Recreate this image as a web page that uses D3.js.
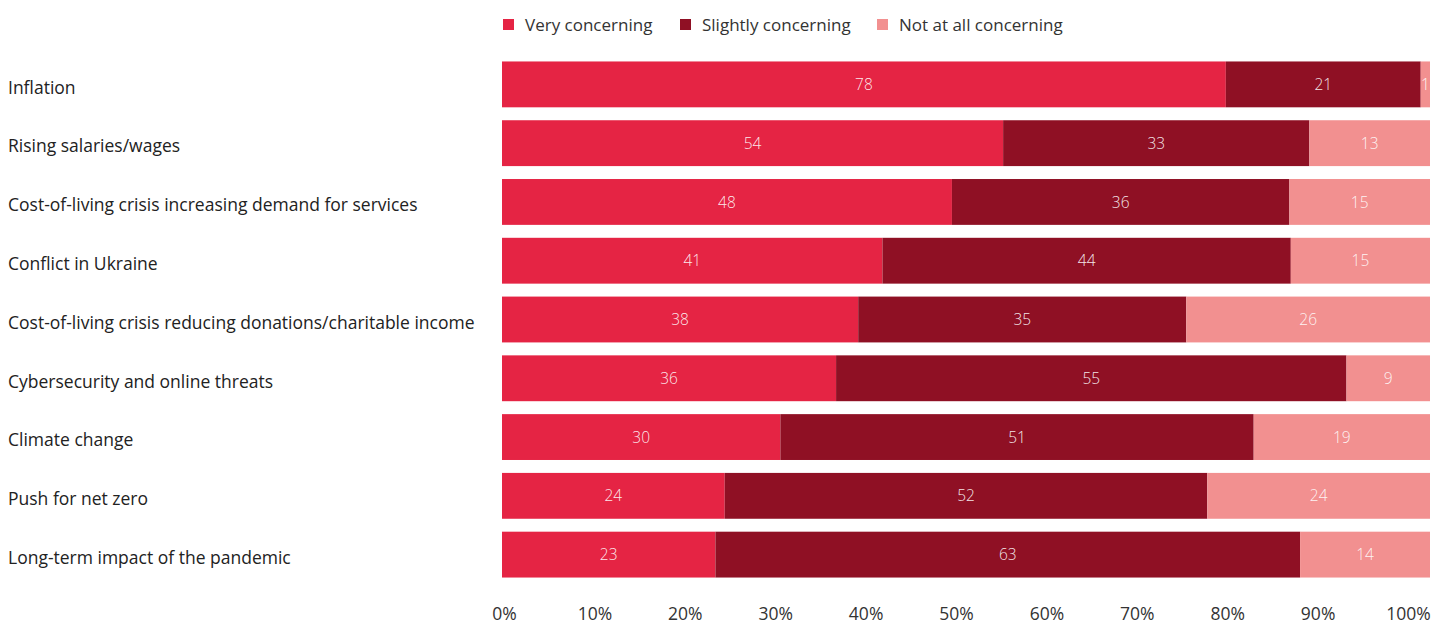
<!DOCTYPE html>
<html>
<head>
<meta charset="utf-8">
<script src="https://cdn.jsdelivr.net/npm/d3@7"></script>
<style>
    body { margin: 0; background: #fff; }
    svg { font-family: "Open Sans", sans-serif; }
</style>
</head>
<body>
<svg id="chart" width="1432" height="624"></svg>
<script>
var categories = [
    "Inflation",
    "Rising salaries/wages",
    "Cost-of-living crisis increasing demand for services",
    "Conflict in Ukraine",
    "Cost-of-living crisis reducing donations/charitable income",
    "Cybersecurity and online threats",
    "Climate change",
    "Push for net zero",
    "Long-term impact of the pandemic"
];
var series_names = ["Very concerning", "Slightly concerning", "Not at all concerning"];
var very = [78, 54, 48, 41, 38, 36, 30, 24, 23];
var slightly = [21, 33, 36, 44, 35, 55, 51, 52, 63];
var not_at_all = [1, 13, 15, 15, 26, 9, 19, 24, 14];
var tick_values = [0, 10, 20, 30, 40, 50, 60, 70, 80, 90, 100];
var colors = ["#e52444", "#8f1024", "#f29090"];

var svg = d3.select("#chart");

var rows = categories.map(function(c, i) {
    return {cat: c, very: very[i], slightly: slightly[i], not_at_all: not_at_all[i]};
});
var keys = ["very", "slightly", "not_at_all"];

// rows that add up to 99 still fill the bar
var stacked = d3.stack()
    .keys(keys)
    .offset(d3.stackOffsetExpand)(rows);

var x = d3.scaleLinear().domain([0, 1]).range([502, 1430]);
var x_axis = d3.scaleLinear().domain([0, 100]).range([504, 1408]);
var y = d3.scaleBand().domain(categories).range([55, 584]).paddingInner(0.22).paddingOuter(0.11);

// bars
var groups = svg.selectAll("g.series")
  .data(stacked)
  .enter()
  .append("g")
    .attr("class", "series")
    .attr("fill", function(d, i) { return colors[i]; });

groups.selectAll("rect")
  .data(function(d) { return d; })
  .enter()
  .append("rect")
    .attr("x", function(d) { return x(d[0]); })
    .attr("y", function(d) { return y(d.data.cat); })
    .attr("width", function(d) { return x(d[1]) - x(d[0]); })
    .attr("height", y.bandwidth());

// value labels
groups.each(function(s) {
    var key = s.key;
    d3.select(this).selectAll("text")
      .data(s)
      .enter()
      .append("text")
        .attr("x", function(d) { return (x(d[0]) + x(d[1])) / 2; })
        .attr("y", function(d) { return y(d.data.cat) + y.bandwidth() / 2; })
        .attr("dy", "0.36em")
        .attr("text-anchor", "middle")
        .attr("fill", "#fff")
        .attr("fill-opacity", 0.9)
        .style("font-size", "15.5px")
        .style("font-weight", 300)
        .text(function(d) { return d.data[key]; });
});

// category labels
svg.append("g")
  .selectAll("text")
  .data(categories)
  .enter()
  .append("text")
    .attr("x", 8)
    .attr("y", function(d) { return y(d) + y.bandwidth() / 2 + 3; })
    .attr("dy", "0.36em")
    .attr("fill", "#222")
    .style("font-size", "17.5px")
    .text(function(d) { return d; });

// x axis
var axis = d3.axisBottom(x_axis)
    .tickValues(tick_values)
    .tickSize(0)
    .tickPadding(0)
    .tickFormat(function(d) { return d + "%"; });
var ax = svg.append("g")
    .attr("transform", "translate(0,608)")
    .call(axis);
ax.select(".domain").remove();
ax.selectAll("text")
    .attr("fill", "#333")
    .style("font-size", "17.5px")
    .style("font-family", "'Open Sans', sans-serif");

// legend
var legend_x = [503, 680, 877];
var legend = svg.append("g")
  .selectAll("g")
  .data(series_names)
  .enter()
  .append("g")
    .attr("transform", function(d, i) { return "translate(" + legend_x[i] + ",19)"; });
legend.append("rect")
    .attr("width", 11)
    .attr("height", 11)
    .attr("fill", function(d, i) { return colors[i]; });
legend.append("text")
    .attr("x", 22)
    .attr("y", 6)
    .attr("dy", "0.36em")
    .attr("fill", "#333")
    .style("font-size", "17px")
    .text(function(d) { return d; });
</script>
</body>
</html>
